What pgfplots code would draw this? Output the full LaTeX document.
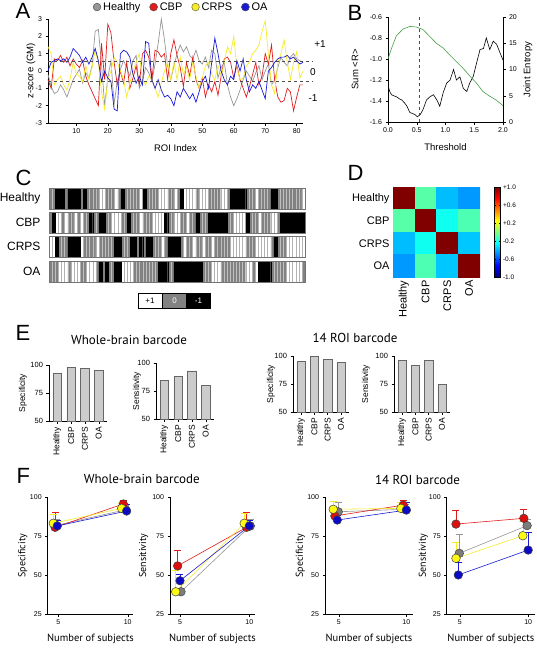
\documentclass[border=0pt]{standalone}
\usepackage{pgfplots}
\pgfplotsset{compat=1.18}
\usepackage{pgfplotstable}
\usepackage{fontspec}
\setmainfont{Liberation Sans}
\newfontfamily\pts{PT Sans}
\newcommand{\fs}[1]{\fontsize{#1}{#1}\selectfont}
\definecolor{cH}{RGB}{150,150,150}
\definecolor{cC}{RGB}{226,28,28}
\definecolor{cR}{RGB}{246,236,40}
\definecolor{cO}{RGB}{25,25,215}
\definecolor{mH}{RGB}{125,125,125}
\definecolor{mC}{RGB}{220,15,15}
\definecolor{mR}{RGB}{255,250,20}
\definecolor{mO}{RGB}{10,10,200}
\definecolor{barg}{RGB}{204,204,204}
\definecolor{bcg}{RGB}{130,130,130}
\definecolor{ent}{RGB}{70,160,70}

\pgfplotstableread{
i h c r o hb cb rb ob
1 -0.2 -0.5 1.4 0.0 0 0 1 0
2 -0.9 -1.0 1.0 0.5 0 -1 1 0
3 -1.3 0.7 -0.8 0.6 -1 1 -1 0
4 -1.2 0.6 -0.5 0.7 -1 1 0 1
5 -0.8 0.9 -0.3 0.6 -1 0 0 1
6 -1.1 0.5 -0.8 0.7 0 1 0 1
7 -1.5 0.8 -1.1 0.5 -1 0 -1 0
8 -1.0 0.3 -0.5 0.8 -1 0 -1 1
9 -0.5 0.7 0.5 1.3 -1 1 -1 1
10 -0.2 0.4 -0.2 1.1 -1 0 -1 1
11 0.1 0.2 -0.3 0.9 0 1 1 0
12 -0.7 0.6 -0.6 0.5 -1 0 0 0
13 -0.1 -0.3 0.3 0.8 0 0 0 1
14 -0.4 -0.8 -0.5 0.4 0 -1 0 1
15 0.3 -1.2 0.2 0.8 0 0 0 1
16 2.3 -1.6 1.2 1.3 0 0 1 0
17 2.4 -2.0 0.5 0.6 1 -1 0 -1
18 0.4 1.6 -1.2 -0.6 1 -1 0 0
19 -2.0 -0.5 -2.2 0.0 0 0 0 -1
20 -0.4 2.7 -0.5 -0.4 0 0 0 0
21 0.6 2.2 0.0 -0.6 0 1 0 0
22 -1.9 0.5 0.8 -2.2 1 1 -1 -1
23 -0.6 -0.8 0.5 -2.3 0 1 -1 -1
24 0.1 0.0 0.0 1.0 -1 0 0 1
25 0.6 -0.7 -0.5 1.2 0 0 0 1
26 0.2 0.5 -1.5 1.1 0 -1 0 1
27 -0.3 -1.0 -0.7 0.8 0 0 -1 1
28 0.6 -0.4 0.0 -0.2 0 0 -1 0
29 0.9 0.3 0.5 -0.7 0 0 0 0
30 -1.0 -0.8 1.0 -0.3 1 1 -1 0
31 -0.6 1.0 -0.5 -0.8 -1 0 0 0
32 0.2 1.2 -0.8 1.7 0 0 -1 0
33 -0.1 0.8 -0.3 1.6 0 0 -1 0
34 -0.6 -0.5 -0.5 -0.5 0 1 0 0
35 0.4 1.2 -1.0 -1.0 0 1 0 0
36 1.6 1.1 -1.5 -0.5 1 1 0 -1
37 3.0 0.8 -0.7 -1.1 1 1 1 -1
38 1.8 1.0 0.0 -1.5 1 -1 0 -1
39 0.3 -0.5 0.5 -1.4 0 0 -1 0
40 -0.5 1.0 -0.5 -1.6 0 0 -1 0
41 0.3 1.8 0.5 -2.0 1 1 -1 -1
42 1.0 0.9 -0.5 -1.2 0 1 -1 -1
43 1.5 0.2 0.8 -1.5 -1 0 0 -1
44 1.1 -0.9 -0.2 -1.0 1 0 1 -1
45 1.4 0.5 0.2 -1.3 1 1 0 -1
46 0.9 -0.3 -0.5 -1.6 1 0 0 -1
47 0.7 0.8 0.5 -1.3 1 0 1 -1
48 1.2 -0.5 -0.3 -1.8 0 -1 0 -1
49 0.6 -1.0 -1.0 -1.2 1 0 0 -1
50 0.4 -0.4 -0.4 -0.6 1 0 1 0
51 0.8 -1.5 0.3 -0.3 1 0 0 0
52 0.2 -0.8 0.5 -1.0 0 -1 0 0
53 1.2 -1.2 -0.2 0.5 0 -1 1 1
54 1.0 -0.6 -0.5 1.9 0 -1 0 1
55 -0.4 -1.4 0.3 1.0 0 -1 0 1
56 0.2 -0.3 -0.3 0.0 1 -1 0 0
57 0.5 0.7 0.5 -0.5 1 -1 0 0
58 -0.8 0.8 1.4 -0.8 0 0 0 0
59 -1.5 0.5 1.0 -0.3 -1 0 1 0
60 -2.0 -0.4 2.0 -0.5 -1 1 1 0
61 -1.6 0.3 0.2 0.6 -1 1 1 0
62 -1.1 -0.5 -0.5 0.0 -1 1 1 0
63 -0.5 -1.0 -0.4 0.7 -1 1 1 0
64 0.0 -1.5 0.3 -0.5 0 -1 0 1
65 -0.3 -0.9 0.5 -1.2 0 0 0 1
66 -0.6 -0.2 1.0 -0.8 0 0 0 0
67 -0.1 0.5 1.2 -1.0 1 0 1 1
68 0.3 -0.8 1.5 -0.6 0 1 1 -1
69 -0.5 -0.3 2.3 -1.1 0 0 1 -1
70 0.0 1.0 2.9 -1.6 0 0 1 -1
71 0.4 0.4 1.0 0.0 0 0 1 -1
72 -0.8 1.5 -0.8 0.2 -1 1 0 0
73 -0.5 -0.5 -1.3 0.5 -1 1 -1 0
74 0.2 -1.5 0.5 0.7 0 0 0 0
75 0.8 -1.8 1.0 0.8 0 -1 0 0
76 0.5 -1.7 1.8 0.8 0 -1 0 0
77 0.3 -1.0 0.5 0.9 0 -1 1 1
78 0.8 -1.2 -0.5 0.7 0 -1 1 1
79 1.0 -2.3 0.5 0.8 0 -1 1 1
80 0.7 -1.5 1.1 0.6 0 -1 1 1
81 0.6 -0.8 -0.4 0.4 0 -1 1 1
82 0.5 -0.8 0.0 0.5 1 -1 1 0
}\zdata

\pgfplotstableread{
t v
0.00 -1.25
0.03 -1.31
0.06 -1.34
0.10 -1.35
0.15 -1.36
0.20 -1.38
0.24 -1.39
0.29 -1.42
0.33 -1.45
0.38 -1.51
0.43 -1.52
0.47 -1.53
0.51 -1.55
0.56 -1.53
0.61 -1.48
0.67 -1.39
0.73 -1.36
0.79 -1.34
0.85 -1.39
0.90 -1.45
0.96 -1.32
1.02 -1.23
1.08 -1.20
1.14 -1.10
1.19 -1.20
1.25 -1.17
1.31 -1.28
1.37 -1.31
1.42 -1.23
1.48 -1.17
1.54 -1.04
1.60 -0.91
1.66 -0.90
1.71 -0.80
1.77 -0.91
1.83 -0.83
1.89 -0.86
1.94 -0.93
2.00 -1.01
}\sumr

\pgfplotstableread{
t e
0.00 12.0
0.06 14.0
0.145 16.4
0.26 17.7
0.38 18.2
0.49 18.1
0.61 17.6
0.725 16.3
0.84 15.0
0.96 14.1
1.07 12.8
1.19 11.5
1.30 10.3
1.42 8.8
1.54 7.4
1.65 5.8
1.77 4.9
1.88 4.2
2.00 3.1
}\entr

\pgfplotstableread{
x y v
0 0 1
1 0 -0.08
2 0 -0.38
3 0 -0.45
0 1 -0.08
1 1 1
2 1 -0.22
3 1 -0.10
0 2 -0.38
1 2 -0.22
2 2 1
3 2 -0.36
0 3 -0.45
1 3 -0.10
2 3 -0.36
3 3 1
}\corr

\pgfplotsset{
  base/.style={scale only axis, anchor=south west, tick align=outside,
    major tick length=2.5pt, tick style={black, line width=0.4pt},
    axis line style={black, line width=0.5pt},
    ticklabel style={font=\fs{7}}, /pgf/number format/assume math mode=true,
    axis x line*=bottom, axis y line*=left},
  rowax/.style={scale only axis, anchor=south west, width=256pt, height=21pt,
    xmin=0.5, xmax=82.5, ymin=0, ymax=1, xtick=\empty, ytick=\empty,
    axis line style={black!55, line width=0.5pt}, axis on top},
  cw/.style={ybar, bar width=1, bar shift=0pt, fill=white, draw=black!30, line width=0.25pt},
  cg/.style={ybar, bar width=1, bar shift=0pt, fill=bcg, draw=black!25, line width=0.25pt},
  cb/.style={ybar, bar width=1, bar shift=0pt, fill=black, draw=black, line width=0.25pt},
  ebar/.style={base, ymin=50, ymax=100, ytick={50,75,100}, xmin=0.4, xmax=4.6,
    xtick={1,2,3,4}, xticklabels={Healthy,CBP,CRPS,OA},
    xticklabel style={rotate=90, anchor=east, font=\fs{8.5}},
    yticklabel style={font=\fs{7.5}}, height=56pt},
  eb/.style={ybar, bar width=0.62, bar shift=0pt, fill=barg, draw=black!60, line width=0.5pt},
  fax/.style={base, ymin=25, ymax=100, ytick={25,50,75,100}, xtick={5,10},
    height=116.7pt, clip=false, xlabel={Number of subjects},
    xlabel style={font=\pts\fs{10.5}, at={(axis description cs:0.5,-0.214)}, anchor=center},
    yticklabel style={font=\fs{7}}, xticklabel style={font=\fs{7}}},
  fser/.style n args={2}{color=#1, line width=0.6pt, mark=*, mark size=4.3pt,
    mark options={fill=#2, draw=black!75, line width=0.5pt},
    error bars/.cd, y dir=plus, y explicit,
    error bar style={line width=0.7pt, color=#1},
    error mark options={rotate=90, mark size=3.5pt, line width=0.7pt, color=#1}},
}

\begin{document}
\begin{tikzpicture}
% ---------------- Panel A ----------------
\begin{axis}[base, at={(48pt,-123pt)}, width=255pt, height=104pt,
  xmin=1, xmax=82, ymin=-3, ymax=3, xtick={10,20,...,80}, ytick={-3,-2,...,3},
  clip=false, xlabel={ROI Index}, ylabel={z-score (GM)},
  xlabel style={font=\fs{9.5}, at={(axis description cs:0.5,-0.24)}, anchor=center},
  ylabel style={font=\fs{9.5}, at={(axis description cs:-0.067,0.5)}, anchor=center},
  legend columns=4,
  legend style={at={(0.176,1.115)}, anchor=west, draw=none, fill=none,
    font=\fs{11}, inner sep=0pt, outer sep=0pt,
    /tikz/every even column/.append style={column sep=7pt}},
  legend image code/.code={\fill[#1] (0pt,0pt) circle (3.8pt);
    \draw[black!65, line width=0.4pt] (0pt,0pt) circle (3.8pt);},
  ]
\addplot[cH, line width=0.7pt] table[x=i, y=h] {\zdata};
\addplot[cC, line width=0.7pt] table[x=i, y=c] {\zdata};
\addplot[cR, line width=0.7pt] table[x=i, y=r] {\zdata};
\addplot[cO, line width=0.7pt] table[x=i, y=o] {\zdata};
\legend{Healthy,CBP,CRPS,OA}
\addplot[black!70, dashed, line width=0.6pt, forget plot] coordinates {(1,0.58) (85,0.58)};
\addplot[black!70, dashed, line width=0.6pt, forget plot] coordinates {(1,-0.58) (85,-0.58)};
\end{axis}
\node[font=\fs{10}] at (320pt,-44pt) {+1};
\node[font=\fs{10}] at (313pt,-72pt) {0};
\node[font=\fs{10}] at (313pt,-98pt) {-1};
\node[font=\fs{22}, anchor=base west] at (12pt,-18pt) {A};

% ---------------- Panel B ----------------
\begin{axis}[base, at={(388pt,-122pt)}, width=115pt, height=105pt,
  xmin=0, xmax=2, ymin=-1.6, ymax=-0.6, xtick={0,0.5,...,2},
  ytick={-1.6,-1.4,...,-0.6},
  xticklabel style={/pgf/number format/.cd, fixed, fixed zerofill, precision=1},
  yticklabel style={/pgf/number format/.cd, fixed, fixed zerofill, precision=1},
  xlabel={Threshold}, ylabel={Sum <R>},
  xlabel style={font=\fs{9.5}, at={(axis description cs:0.5,-0.238)}, anchor=center},
  ylabel style={font=\fs{9.5}, at={(axis description cs:-0.287,0.5)}, anchor=center}]
\addplot[black, line width=0.6pt] table[x=t, y=v] {\sumr};
\addplot[black!70, dashed, line width=0.7pt] coordinates {(0.55,-1.6) (0.55,-0.6)};
\end{axis}
\begin{axis}[base, axis x line=none, axis y line*=right, at={(388pt,-122pt)},
  width=115pt, height=105pt, xmin=0, xmax=2, ymin=0, ymax=20, ytick={0,5,...,20},
  ylabel={Joint Entropy},
  ylabel style={font=\fs{9.5}, at={(axis description cs:1.217,0.5)}, anchor=center}]
\addplot[ent, line width=0.6pt] table[x=t, y=e] {\entr};
\end{axis}
\node[font=\fs{22}, anchor=base west] at (344pt,-20pt) {B};

% ---------------- Panel C ----------------
\begin{axis}[rowax, at={(49pt,-209pt)}]
\addplot[cg, restrict expr to domain={\thisrow{hb}}{-0.5:0.5}] table[x=i, y expr=1] {\zdata};
\addplot[cw, restrict expr to domain={\thisrow{hb}}{0.5:1.5}] table[x=i, y expr=1] {\zdata};
\addplot[cb, restrict expr to domain={\thisrow{hb}}{-1.5:-0.5}] table[x=i, y expr=1] {\zdata};
\end{axis}
\begin{axis}[rowax, at={(49pt,-233pt)}]
\addplot[cg, restrict expr to domain={\thisrow{cb}}{-0.5:0.5}] table[x=i, y expr=1] {\zdata};
\addplot[cw, restrict expr to domain={\thisrow{cb}}{0.5:1.5}] table[x=i, y expr=1] {\zdata};
\addplot[cb, restrict expr to domain={\thisrow{cb}}{-1.5:-0.5}] table[x=i, y expr=1] {\zdata};
\end{axis}
\begin{axis}[rowax, at={(49pt,-257pt)}]
\addplot[cg, restrict expr to domain={\thisrow{rb}}{-0.5:0.5}] table[x=i, y expr=1] {\zdata};
\addplot[cw, restrict expr to domain={\thisrow{rb}}{0.5:1.5}] table[x=i, y expr=1] {\zdata};
\addplot[cb, restrict expr to domain={\thisrow{rb}}{-1.5:-0.5}] table[x=i, y expr=1] {\zdata};
\end{axis}
\begin{axis}[rowax, at={(49pt,-282pt)}]
\addplot[cg, restrict expr to domain={\thisrow{ob}}{-0.5:0.5}] table[x=i, y expr=1] {\zdata};
\addplot[cw, restrict expr to domain={\thisrow{ob}}{0.5:1.5}] table[x=i, y expr=1] {\zdata};
\addplot[cb, restrict expr to domain={\thisrow{ob}}{-1.5:-0.5}] table[x=i, y expr=1] {\zdata};
\end{axis}
\node[font=\fs{12}, anchor=east] at (44pt,-198.5pt) {Healthy};
\node[font=\fs{12}, anchor=east] at (44pt,-222pt) {CBP};
\node[font=\fs{12}, anchor=east] at (44pt,-246.5pt) {CRPS};
\node[font=\fs{12}, anchor=east] at (44pt,-271pt) {OA};
\node[draw=black, fill=white, minimum width=24pt, minimum height=15pt, inner sep=0pt, font=\fs{8}] at (150pt,-300.5pt) {+1};
\node[draw=black, fill=bcg, text=white, minimum width=24pt, minimum height=15pt, inner sep=0pt, font=\fs{8}] at (174.5pt,-300.5pt) {0};
\node[draw=black, fill=black, text=white, minimum width=24pt, minimum height=15pt, inner sep=0pt, font=\fs{8}] at (198.5pt,-300.5pt) {-1};
\node[font=\fs{22}, anchor=base west] at (12pt,-185pt) {C};

% ---------------- Panel D ----------------
\begin{axis}[scale only axis, anchor=south west, at={(393pt,-277pt)},
  width=87pt, height=90pt, xmin=-0.5, xmax=3.5, ymin=-0.5, ymax=3.5, y dir=reverse,
  xtick={0,1,2,3}, ytick={0,1,2,3},
  xticklabels={Healthy,CBP,CRPS,OA}, yticklabels={Healthy,CBP,CRPS,OA},
  xticklabel style={rotate=90, anchor=east, font=\fs{11}},
  yticklabel style={font=\fs{11}},
  tick style={draw=none}, axis line style={draw=none},
  colormap/jet, point meta min=-1, point meta max=1,
  colorbar,
  colorbar style={at={(parent axis.north east)}, anchor=north west, xshift=6pt,
    width=6pt, ytick={-1,-0.6,-0.2,0.2,0.6,1},
    yticklabels={-1.0,-0.6,-0.2,+0.2,+0.6,+1.0},
    yticklabel style={font=\fs{6.5}, xshift=-1pt},
    axis line style={draw=black, line width=0.5pt},
    tick style={draw=black, line width=0.4pt}, major tick length=1.5pt}]
\addplot[matrix plot*, mesh/cols=4, point meta=explicit] table[x=x, y=y, meta=v] {\corr};
\end{axis}
\node[font=\fs{22}, anchor=base west] at (344pt,-180pt) {D};

% ---------------- Panel E ----------------
\node[font=\fs{22}, anchor=base west] at (12pt,-340pt) {E};
\node[font=\pts\fs{13}] at (129pt,-340pt) {Whole-brain barcode};
\node[font=\pts\fs{13}] at (355pt,-338pt) {14 ROI barcode};
\begin{axis}[ebar, at={(49pt,-421pt)}, width=58pt, ylabel={Specificity},
  ylabel style={font=\fs{8.5}, at={(axis description cs:-0.448,0.5)}, anchor=center}]
\addplot[eb] coordinates {(1,92.5) (2,98) (3,97) (4,95)};
\end{axis}
\begin{axis}[ebar, at={(156pt,-419pt)}, width=58pt, ylabel={Sensitivity},
  ylabel style={font=\fs{8.5}, at={(axis description cs:-0.33,0.5)}, anchor=center}]
\addplot[eb] coordinates {(1,84.5) (2,88) (3,93) (4,80)};
\end{axis}
\begin{axis}[ebar, at={(293pt,-412pt)}, width=56pt, ylabel={Specificity},
  ylabel style={font=\fs{8.5}, at={(axis description cs:-0.393,0.5)}, anchor=center}]
\addplot[eb] coordinates {(1,95) (2,99.5) (3,97) (4,94)};
\end{axis}
\begin{axis}[ebar, at={(394pt,-412pt)}, width=56pt, ylabel={Sensitivity},
  ylabel style={font=\fs{8.5}, at={(axis description cs:-0.5,0.5)}, anchor=center}]
\addplot[eb] coordinates {(1,96) (2,91.5) (3,96) (4,75)};
\end{axis}

% ---------------- Panel F ----------------
\node[font=\fs{22}, anchor=base west] at (13pt,-483pt) {F};
\node[font=\pts\fs{13}] at (141.7pt,-479pt) {Whole-brain barcode};
\node[font=\pts\fs{13}] at (417.5pt,-480pt) {14 ROI barcode};
\begin{axis}[fax, at={(47.7pt,-614pt)}, width=85.6pt, xmin=4.24, xmax=10.4,
  ylabel={Specificity},
  ylabel style={font=\pts\fs{10}, at={(axis description cs:-0.29,0.5)}, anchor=center}]
\addplot[fser={cH}{mH}] coordinates {(4.85,82) +- (0,4) (9.85,92) +- (0,3)};
\addplot[fser={cC}{mC}] coordinates {(4.77,80.7) +- (0,9.4) (9.68,95.7) +- (0,2.6)};
\addplot[fser={cR}{mR}] coordinates {(4.64,83.3) +- (0,6) (9.56,92.9) +- (0,3)};
\addplot[fser={cO}{mO}] coordinates {(4.93,81.6) +- (0,3.8) (9.92,91.2) +- (0,4.5)};
\end{axis}
\begin{axis}[fax, at={(170pt,-614pt)}, width=85pt, xmin=4.28, xmax=10.41,
  ylabel={Sensitivity},
  ylabel style={font=\pts\fs{10}, at={(axis description cs:-0.31,0.5)}, anchor=center}]
\addplot[fser={cH}{mH}] coordinates {(5.07,39.3) +- (0,8) (10.07,81.6) +- (0,4)};
\addplot[fser={cC}{mC}] coordinates {(4.83,55.9) +- (0,10.2) (9.8,80.7) +- (0,9.4)};
\addplot[fser={cR}{mR}] coordinates {(4.69,39.3) +- (0,14) (9.63,83.3) +- (0,6.7)};
\addplot[fser={cO}{mO}] coordinates {(5.0,46.4) +- (0,4) (10,81.6) +- (0,3.8)};
\end{axis}
\begin{axis}[fax, at={(325pt,-614pt)}, width=88pt, xmin=3.97, xmax=10.49,
  ylabel={Specificity},
  ylabel style={font=\pts\fs{10}, at={(axis description cs:-0.28,0.5)}, anchor=center}]
\addplot[fser={cH}{mH}] coordinates {(4.95,90.7) +- (0,6.3) (9.9,92.3) +- (0,3)};
\addplot[fser={cC}{mC}] coordinates {(4.7,88) +- (0,3) (9.77,95) +- (0,3)};
\addplot[fser={cR}{mR}] coordinates {(4.58,92.3) +- (0,4.9) (9.59,92.9) +- (0,4)};
\addplot[fser={cO}{mO}] coordinates {(4.88,85.4) +- (0,3) (10,91.8) +- (0,5)};
\end{axis}
\begin{axis}[fax, at={(446.7pt,-614pt)}, width=88.3pt, xmin=4.03, xmax=10.5,
  ylabel={Sensitivity},
  ylabel style={font=\pts\fs{10}, at={(axis description cs:-0.265,0.5)}, anchor=center}]
\addplot[fser={cH}{mH}] coordinates {(4.95,64) +- (0,12.4) (9.92,81.8) +- (0,4.1)};
\addplot[fser={cC}{mC}] coordinates {(4.71,82.8) +- (0,8.6) (9.68,86.5) +- (0,5.8)};
\addplot[fser={cR}{mR}] coordinates {(4.71,60.8) +- (0,10) (9.61,75.3) +- (0,9)};
\addplot[fser={cO}{mO}] coordinates {(4.88,50.1) +- (0,7.9) (10,66.1) +- (0,11.1)};
\end{axis}

\pgfresetboundingbox
\path[use as bounding box] (0pt,0pt) rectangle (537pt,-648pt);
\end{tikzpicture}
\end{document}
